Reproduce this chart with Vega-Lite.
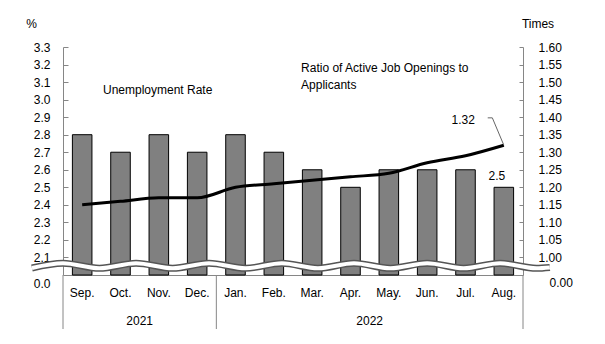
{
  "$schema": "https://vega.github.io/schema/vega-lite/v6.json",
  "width": 460,
  "height": 228,
  "autosize": {"type": "none"},
  "padding": {"left": 63, "top": 47, "right": 82, "bottom": 69},
  "config": {
    "font": "Liberation Sans",
    "view": {"stroke": null},
    "text": {"font": "Liberation Sans", "fontSize": 12, "color": "#000000"},
    "axis": {
      "labelFont": "Liberation Sans", "labelFontSize": 12, "labelColor": "#000000",
      "titleFont": "Liberation Sans", "titleFontSize": 12, "titleFontWeight": "normal", "titleColor": "#000000",
      "domainColor": "#868686", "tickColor": "#868686", "grid": false
    }
  },
  "datasets": {
    "monthly": [
      {"m": "Sep.", "rate": 2.8, "ratio": 1.15},
      {"m": "Oct.", "rate": 2.7, "ratio": 1.16},
      {"m": "Nov.", "rate": 2.8, "ratio": 1.17},
      {"m": "Dec.", "rate": 2.7, "ratio": 1.17},
      {"m": "Jan.", "rate": 2.8, "ratio": 1.20},
      {"m": "Feb.", "rate": 2.7, "ratio": 1.21},
      {"m": "Mar.", "rate": 2.6, "ratio": 1.22},
      {"m": "Apr.", "rate": 2.5, "ratio": 1.23},
      {"m": "May.", "rate": 2.6, "ratio": 1.24},
      {"m": "Jun.", "rate": 2.6, "ratio": 1.27},
      {"m": "Jul.", "rate": 2.6, "ratio": 1.29},
      {"m": "Aug.", "rate": 2.5, "ratio": 1.32}
    ],
    "wave": [
      {"i": -1.31, "v": 0.970},
      {"i": -0.5, "v": 0.9834},
      {"i": 0.45, "v": 0.9691},
      {"i": 1.405, "v": 0.9834},
      {"i": 2.36, "v": 0.9691},
      {"i": 3.31, "v": 0.9834},
      {"i": 4.26, "v": 0.9691},
      {"i": 5.21, "v": 0.9834},
      {"i": 6.15, "v": 0.9691},
      {"i": 7.09, "v": 0.9834},
      {"i": 8.04, "v": 0.9691},
      {"i": 9.0, "v": 0.9834},
      {"i": 9.95, "v": 0.9691},
      {"i": 10.9, "v": 0.9834},
      {"i": 11.85, "v": 0.9691},
      {"i": 12.2, "v": 0.9715}
    ],
    "leader": [
      {"i": 10.58, "v": 1.398},
      {"i": 10.70, "v": 1.398},
      {"i": 11.0, "v": 1.32}
    ],
    "separators": [
      {"i": -0.5, "v": 0.95, "v2": 0.796},
      {"i": 3.5, "v": 0.95, "v2": 0.796},
      {"i": 11.5, "v": 0.95, "v2": 0.796}
    ],
    "years": [
      {"i": 1.5, "v": 0.819, "label": "2021"},
      {"i": 7.5, "v": 0.819, "label": "2022"}
    ],
    "notes": [
      {"i": 0.543, "v": 1.478, "label": "Unemployment Rate"},
      {"i": 5.71, "v": 1.541, "label": "Ratio of Active Job Openings to"},
      {"i": 5.71, "v": 1.493, "label": "Applicants"}
    ]
  },
  "resolve": {"scale": {"x": "independent", "y": "independent"}},
  "layer": [
    {
      "data": {"name": "monthly"},
      "encoding": {
        "x": {
          "field": "m", "type": "nominal", "sort": null,
          "scale": {"domain": ["Sep.", "Oct.", "Nov.", "Dec.", "Jan.", "Feb.", "Mar.", "Apr.", "May.", "Jun.", "Jul.", "Aug."], "paddingInner": 0.49, "paddingOuter": 0.245},
          "axis": {"title": null, "labelAngle": 0, "ticks": false, "labelPadding": 12, "domainColor": "#868686"}
        },
        "y": {
          "field": "rate", "type": "quantitative",
          "scale": {"domain": [2.0, 3.3], "zero": false, "nice": false},
          "axis": {
            "title": "%", "titleAngle": 0, "titleX": -32, "titleY": -24, "titleAlign": "center", "titleBaseline": "middle",
            "values": [2.0, 2.1, 2.2, 2.3, 2.4, 2.5, 2.6, 2.7, 2.8, 2.9, 3.0, 3.1, 3.2, 3.3],
            "labelExpr": "datum.value < 2.05 ? '0.0' : format(datum.value, '.1f')",
            "tickSize": -5,
            "labelPadding": 18,
            "tickOpacity": {"condition": {"test": "datum.value < 2.05", "value": 0}, "value": 1},
            "labelOffset": {"condition": {"test": "datum.value < 2.05", "value": 8}, "value": 0}
          }
        }
      },
      "layer": [
        {
          "mark": {"type": "bar", "fill": "#808080", "stroke": "#000000", "strokeWidth": 1},
          "encoding": {"y2": {"datum": 2.0}}
        },
        {
          "transform": [{"filter": "datum.m == 'Aug.'"}],
          "mark": {"type": "text", "dx": -7, "dy": -11, "baseline": "middle", "align": "center"},
          "encoding": {"text": {"field": "rate", "type": "quantitative", "format": ".1f"}}
        }
      ]
    },
    {
      "data": {"name": "monthly"},
      "encoding": {
        "x": {
          "field": "m", "type": "nominal", "sort": null,
          "scale": {"type": "point", "domain": ["Sep.", "Oct.", "Nov.", "Dec.", "Jan.", "Feb.", "Mar.", "Apr.", "May.", "Jun.", "Jul.", "Aug."], "padding": 0.5},
          "axis": null
        },
        "y": {
          "field": "ratio", "type": "quantitative",
          "scale": {"domain": [0.95, 1.6], "zero": false, "nice": false},
          "axis": {
            "orient": "right",
            "title": "Times", "titleAngle": 0, "titleX": 14.5, "titleY": -24, "titleAlign": "center", "titleBaseline": "middle",
            "values": [0.95, 1.0, 1.05, 1.1, 1.15, 1.2, 1.25, 1.3, 1.35, 1.4, 1.45, 1.5, 1.55, 1.6],
            "labelExpr": "datum.value < 0.97 ? '0.00' : format(datum.value, '.2f')",
            "tickSize": -4,
            "labelPadding": {"condition": {"test": "datum.value < 0.97", "value": 30}, "value": 19},
            "tickOpacity": {"condition": {"test": "datum.value < 0.97", "value": 0}, "value": 1},
            "labelOffset": {"condition": {"test": "datum.value < 0.97", "value": 7}, "value": 0}
          }
        }
      },
      "layer": [
        {
          "mark": {"type": "line", "color": "#000000", "strokeWidth": 3, "interpolate": "monotone"}
        },
        {
          "transform": [{"filter": "datum.m == 'Aug.'"}],
          "mark": {"type": "text", "dx": -29, "dy": -25, "baseline": "middle", "align": "right"},
          "encoding": {"text": {"field": "ratio", "type": "quantitative", "format": ".2f"}}
        }
      ]
    },
    {
      "encoding": {
        "x": {"field": "i", "type": "quantitative", "scale": {"domain": [-0.5, 11.5], "nice": false, "zero": false}, "axis": null},
        "y": {"field": "v", "type": "quantitative", "scale": {"domain": [0.95, 1.6], "nice": false, "zero": false}, "axis": null}
      },
      "layer": [
        {
          "data": {"name": "wave"},
          "mark": {"type": "line", "color": "#555555", "strokeWidth": 7, "interpolate": "monotone"}
        },
        {
          "data": {"name": "wave"},
          "mark": {"type": "line", "color": "#ffffff", "strokeWidth": 4, "interpolate": "monotone"}
        },
        {
          "data": {"name": "leader"},
          "mark": {"type": "line", "color": "#666666", "strokeWidth": 1}
        },
        {
          "data": {"name": "separators"},
          "mark": {"type": "rule", "color": "#868686", "strokeWidth": 1},
          "encoding": {"y2": {"field": "v2"}}
        },
        {
          "data": {"name": "years"},
          "mark": {"type": "text", "align": "center", "baseline": "middle"},
          "encoding": {"text": {"field": "label", "type": "nominal"}}
        },
        {
          "data": {"name": "notes"},
          "mark": {"type": "text", "align": "left", "baseline": "middle"},
          "encoding": {"text": {"field": "label", "type": "nominal"}}
        }
      ]
    }
  ]
}
